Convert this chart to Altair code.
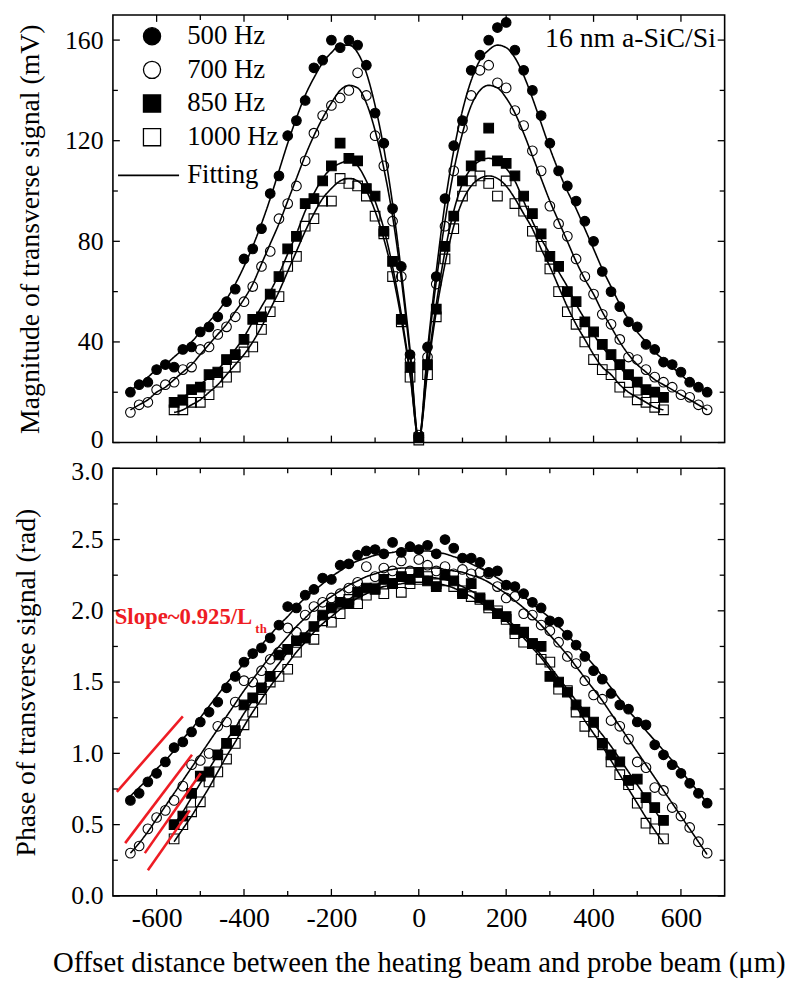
import altair as alt
import pandas as pd

FONT = "Liberation Serif"
RED = "#ee1c24"
SERIES = ["500 Hz", "700 Hz", "850 Hz", "1000 Hz"]
SHAPES = ["circle", "circle", "square", "square"]
FILLS = ["black", "transparent", "black", "transparent"]
STROKES = ["black", "black", "black", "black"]

# offset positions (um)
X_WIDE = list(range(-660, 661, 20))     # 500 Hz, 700 Hz
X_NARROW = list(range(-560, 561, 20))   # 850 Hz, 1000 Hz

# ---------------- magnitude (mV) ----------------
MAG_500 = [20,23,24,29,31,30,37,38,44,46, 50,56,61,73,77,85,99,106,122,128,
           136,149,152,160,157,160,158,150,131,119, 93,70,35, 2,
           38,66,97,118,128,148,154,160,165,167, 156,148,140,130,119,108,102,96,88,80,
           68,60,54,48,46,39,37,32,31,28, 24,22,20]
MAG_FIT_500 = [21,23,26,29,31,34,37,40,44,48, 52,57,63,70,78,87,97,108,119,129,
               138,145,151,155,158,158,155,147,134,117, 95,68,37, 1,
               37,68,95,116,132,144,152,156,158,157, 153,146,137,127,117,108,100,93,85,77,
               69,62,55,49,44,40,36,33,30,27, 24,22,20]
MAG_700 = [12,15,16,21,23,24,29,30,37,38, 43,46,50,56,62,70,76,89,95,102,
           112,123,130,134,137,140,147,138,122,110, 88,66,33, 3,
           34,63,86,108,125,138,148,150,143,141, 132,126,116,108,94,87,82,73,66,59,
           51,47,41,34,33,29,26,24,22,19, 18,15,13]
MAG_FIT_700 = [13,15,17,20,22,25,28,31,35,39, 43,47,52,57,63,71,79,87,96,105,
               114,122,129,135,140,142,141,135,124,109, 90,65,35, 1,
               35,64,88,108,123,134,140,142,141,137, 131,123,114,105,96,88,80,72,65,59,
               52,46,40,35,31,28,25,23,21,19, 17,15,13]
MAG_850 = [16,17,21,22,27,28,33,35,41,49, 50,59,66,77,82,95,97,104,110,119,
           113,112,101,98,84,72,49,30, 2,
           31,53,78,90,104,110,114,125,112,111, 106,98,91,83,74,70,60,56,48,44,
           39,35,31,27,24,21,20,18]
MAG_FIT_850 = [15,18,20,23,26,29,33,37,42,48, 54,60,67,75,83,92,99,105,109,111,
               112,110,104,96,85,70,51,28, 1,
               30,55,76,92,103,109,112,113,112,109, 104,96,88,81,75,68,62,55,49,43,
               38,34,30,26,23,21,19,17]
MAG_1000 = [13,13,16,16,19,24,26,30,36,38, 45,52,58,70,74,86,89,96,96,105,
            103,102,98,90,83,66,48,26, 1,
            27,50,73,85,98,104,106,103,98,104, 95,92,84,78,69,60,52,47,40,33,
            29,27,22,20,17,16,14,13]
MAG_FIT_1000 = [12,13,15,17,20,23,27,31,35,40, 46,53,60,68,76,84,91,97,101,104,
                105,104,100,92,81,67,49,27, 1,
                28,52,71,86,96,102,105,106,105,102, 97,91,85,77,70,62,54,47,41,35,
                30,27,23,20,18,16,14,13]

# ---------------- phase (rad) ----------------
PH_500 = [0.67,0.72,0.80,0.86,0.94,1.04,1.08,1.15,1.22,1.29, 1.36,1.46,1.54,1.64,1.70,1.74,1.81,1.90,2.03,2.02,
          2.11,2.15,2.23,2.22,2.32,2.33,2.39,2.42,2.43,2.40, 2.48,2.41,2.45, 2.43,
          2.46,2.40,2.50,2.44,2.37,2.37,2.34,2.27,2.28,2.18, 2.17,2.12,2.06,2.02,1.93,1.92,1.83,1.76,1.68,1.58,
          1.52,1.42,1.34,1.31,1.22,1.20,1.06,0.99,0.92,0.86, 0.79,0.72,0.65]
PH_FIT_500 = [0.70,0.76,0.82,0.89,0.95,1.02,1.10,1.17,1.25,1.33, 1.41,1.49,1.56,1.63,1.69,1.76,1.83,1.90,1.96,2.03,
              2.09,2.14,2.19,2.24,2.28,2.32,2.35,2.37,2.39,2.40, 2.41,2.42,2.42, 2.42,
              2.42,2.41,2.40,2.38,2.36,2.33,2.30,2.27,2.23,2.19, 2.15,2.10,2.05,2.00,1.95,1.89,1.83,1.76,1.69,1.62,
              1.54,1.46,1.38,1.30,1.23,1.16,1.09,1.02,0.95,0.88, 0.80,0.73,0.65]
PH_700 = [0.30,0.35,0.47,0.55,0.60,0.67,0.77,0.92,0.95,1.00, 1.19,1.22,1.36,1.51,1.50,1.58,1.66,1.71,1.88,1.85,
          1.97,2.03,2.06,2.09,2.12,2.16,2.20,2.31,2.24,2.30, 2.28,2.35,2.28, 2.36,
          2.32,2.28,2.31,2.26,2.29,2.26,2.27,2.26,2.17,2.09, 2.10,1.98,1.97,1.90,1.86,1.78,1.68,1.63,1.51,1.41,
          1.38,1.23,1.19,1.10,0.94,0.90,0.76,0.74,0.62,0.56, 0.48,0.38,0.30]
PH_FIT_700 = [0.30,0.37,0.45,0.54,0.63,0.72,0.81,0.90,0.99,1.08, 1.17,1.26,1.35,1.44,1.52,1.60,1.68,1.75,1.82,1.89,
              1.95,2.01,2.06,2.10,2.14,2.18,2.21,2.24,2.26,2.28, 2.29,2.30,2.30, 2.30,
              2.30,2.30,2.29,2.28,2.27,2.25,2.23,2.20,2.16,2.12, 2.07,2.02,1.96,1.90,1.83,1.76,1.69,1.61,1.53,1.45,
              1.37,1.28,1.19,1.10,1.01,0.92,0.83,0.74,0.65,0.56, 0.47,0.38,0.29]
PH_850 = [0.50,0.56,0.72,0.84,0.87,0.99,1.07,1.16,1.34,1.39, 1.46,1.54,1.69,1.73,1.79,1.81,1.89,1.97,2.02,2.06,
          2.05,2.13,2.16,2.15,2.22,2.19,2.24,2.22, 2.27,
          2.21,2.17,2.25,2.21,2.12,2.19,2.09,2.04,1.98,1.96, 1.87,1.85,1.77,1.75,1.54,1.50,1.43,1.34,1.29,1.22,
          1.07,0.99,0.94,0.81,0.82,0.69,0.62,0.53]
PH_FIT_850 = [0.50,0.59,0.69,0.79,0.89,0.99,1.09,1.18,1.28,1.37, 1.46,1.55,1.63,1.71,1.78,1.84,1.90,1.95,2.00,2.04,
              2.08,2.12,2.15,2.18,2.20,2.22,2.23,2.24, 2.24,
              2.24,2.23,2.22,2.20,2.17,2.14,2.10,2.05,2.00,1.95, 1.89,1.83,1.76,1.69,1.61,1.53,1.45,1.37,1.29,1.21,
              1.13,1.05,0.96,0.87,0.78,0.69,0.60,0.51]
PH_1000 = [0.40,0.50,0.59,0.66,0.80,0.87,0.96,1.07,1.20,1.29, 1.38,1.50,1.54,1.59,1.71,1.81,1.80,1.93,1.92,1.98,
           2.08,2.05,2.11,2.16,2.12,2.19,2.13,2.19, 2.22,
           2.24,2.19,2.21,2.17,2.14,2.10,2.08,2.02,2.00,1.94, 1.84,1.78,1.77,1.66,1.64,1.45,1.44,1.29,1.19,1.15,
           1.06,0.94,0.85,0.78,0.65,0.51,0.47,0.40]
PH_FIT_1000 = [0.38,0.47,0.56,0.66,0.76,0.87,0.98,1.08,1.19,1.29, 1.38,1.47,1.55,1.63,1.71,1.78,1.85,1.91,1.96,2.01,
               2.05,2.09,2.12,2.15,2.17,2.18,2.19,2.20, 2.20,
               2.20,2.19,2.18,2.16,2.13,2.10,2.06,2.02,1.98,1.93, 1.87,1.81,1.74,1.67,1.59,1.51,1.42,1.33,1.23,1.14,
               1.05,0.95,0.85,0.75,0.65,0.55,0.46,0.37]

# slope guide lines (um, rad)
SLOPE_X1 = [-691, -672, -627, -620]
SLOPE_V1 = [0.73, 0.37, 0.30, 0.18]
SLOPE_X2 = [-540, -519, -499, -524]
SLOPE_V2 = [1.26, 0.99, 0.86, 0.60]
SLOPE_TEXT = "Slope~0.925/L"
SLOPE_SUB = "th"
SLOPE_POS = [-696, 1.905]
SLOPE_SUB_POS = [-374, 1.845]

SAMPLE_TEXT = "16 nm a-SiC/Si"
SAMPLE_POS = [680, 160.4]

# axes
X_DOMAIN = [-700, 700]
MAG_DOMAIN = [0, 170]
PH_DOMAIN = [0, 3]
X_MAJOR = [-600, -400, -200, 0, 200, 400, 600]
X_MINOR = [-500, -300, -100, 100, 300, 500]
MAG_MAJOR = [0, 40, 80, 120, 160]
MAG_MINOR = [20, 60, 100, 140]
PH_MAJOR = [0, 0.5, 1.0, 1.5, 2.0, 2.5, 3.0]
PH_MINOR = [0.25, 0.75, 1.25, 1.75, 2.25, 2.75]

W, H = 618, 432


def long_df(xs_list, vals_list):
    rows = []
    for s, xs, vs in zip(SERIES, xs_list, vals_list):
        assert len(xs) == len(vs), (s, len(xs), len(vs))
        rows += [{"x": x, "v": v, "series": s} for x, v in zip(xs, vs)]
    return pd.DataFrame(rows)


GRIDS = [X_WIDE, X_WIDE, X_NARROW, X_NARROW]
mag_pts = long_df(GRIDS, [MAG_500, MAG_700, MAG_850, MAG_1000])
mag_fit = long_df(GRIDS, [MAG_FIT_500, MAG_FIT_700, MAG_FIT_850, MAG_FIT_1000])
mag_fit["kind"] = "Fitting"
ph_pts = long_df(GRIDS, [PH_500, PH_700, PH_850, PH_1000])
ph_fit = long_df(GRIDS, [PH_FIT_500, PH_FIT_700, PH_FIT_850, PH_FIT_1000])
ph_fit["kind"] = "Fitting"


def panel(pts, fit, ydomain, yaxis, xaxis, ymajor, yminor, legends, extras):
    xs = alt.Scale(domain=X_DOMAIN, nice=False, zero=False)
    ys = alt.Scale(domain=ydomain, nice=False, zero=False)

    def X(f):
        return alt.X(f, type="quantitative", scale=xs, axis=xaxis)

    def Y(f):
        return alt.Y(f, type="quantitative", scale=ys, axis=yaxis)

    if legends:
        pt_leg = alt.Legend(title=None, orient="none", legendX=26, legendY=8,
                            labelFont=FONT, labelFontSize=27, labelColor="black",
                            symbolSize=300, symbolStrokeColor="black", symbolStrokeWidth=1.3,
                            rowPadding=6, labelOffset=22, padding=0)
        fit_leg = alt.Legend(title=None, orient="none", legendX=4, legendY=130,
                             labelFont=FONT, labelFontSize=27, labelColor="black",
                             symbolType="stroke", symbolSize=3800, symbolStrokeColor="black",
                             symbolStrokeWidth=1.8, labelOffset=7, padding=0)
    else:
        pt_leg = None
        fit_leg = None

    lines = alt.Chart(fit).mark_line(color="black", strokeWidth=1.6, interpolate="monotone").encode(
        x=X("x"), y=Y("v"), detail="series:N",
        strokeDash=alt.StrokeDash("kind:N", scale=alt.Scale(domain=["Fitting"], range=[[1, 0]]),
                                  legend=fit_leg),
    )
    points = alt.Chart(pts).mark_point(filled=True, size=95, strokeWidth=1.1, opacity=1).encode(
        x=X("x"), y=Y("v"),
        shape=alt.Shape("series:N", scale=alt.Scale(domain=SERIES, range=SHAPES), legend=pt_leg),
        fill=alt.Fill("series:N", scale=alt.Scale(domain=SERIES, range=FILLS), legend=pt_leg),
        stroke=alt.Stroke("series:N", scale=alt.Scale(domain=SERIES, range=STROKES), legend=pt_leg),
    )

    tick_layers = []
    for vals, ln in ((X_MAJOR, 7), (X_MINOR, 5)):
        df = pd.DataFrame({"t": vals})
        tick_layers.append(alt.Chart(df).mark_rule(color="black", strokeWidth=1.3).encode(
            x=X("t"), y=alt.value(0), y2=alt.value(ln)))
        tick_layers.append(alt.Chart(df).mark_rule(color="black", strokeWidth=1.3).encode(
            x=X("t"), y=alt.value(H), y2=alt.value(H - ln)))
    for vals, ln in ((ymajor, 7), (yminor, 5)):
        df = pd.DataFrame({"t": vals})
        tick_layers.append(alt.Chart(df).mark_rule(color="black", strokeWidth=1.3).encode(
            y=Y("t"), x=alt.value(0), x2=alt.value(ln)))
        tick_layers.append(alt.Chart(df).mark_rule(color="black", strokeWidth=1.3).encode(
            y=Y("t"), x=alt.value(W), x2=alt.value(W - ln)))

    extra_layers = [e(X, Y) for e in extras]
    return alt.layer(lines, points, *extra_layers, *tick_layers).properties(width=W, height=H)


def sample_label(X, Y):
    df = pd.DataFrame({"x": [SAMPLE_POS[0]], "v": [SAMPLE_POS[1]], "t": [SAMPLE_TEXT]})
    return alt.Chart(df).mark_text(align="right", baseline="middle", font=FONT, fontSize=28,
                                   color="black").encode(x=X("x"), y=Y("v"), text="t:N")


def slope_lines(X, Y):
    df = pd.DataFrame({"x1": SLOPE_X1, "v1": SLOPE_V1, "x2": SLOPE_X2, "v2": SLOPE_V2})
    return alt.Chart(df).mark_rule(color=RED, strokeWidth=2.6).encode(
        x=X("x1"), y=Y("v1"), x2="x2:Q", y2="v2:Q")


def slope_text(X, Y):
    df = pd.DataFrame({"x": [SLOPE_POS[0]], "v": [SLOPE_POS[1]], "t": [SLOPE_TEXT]})
    return alt.Chart(df).mark_text(align="left", baseline="alphabetic", font=FONT, fontSize=23,
                                   fontWeight="bold", color=RED).encode(x=X("x"), y=Y("v"), text="t:N")


def slope_sub(X, Y):
    df = pd.DataFrame({"x": [SLOPE_SUB_POS[0]], "v": [SLOPE_SUB_POS[1]], "t": [SLOPE_SUB]})
    return alt.Chart(df).mark_text(align="left", baseline="alphabetic", font=FONT, fontSize=13,
                                   fontWeight="bold", color=RED).encode(x=X("x"), y=Y("v"), text="t:N")


common_axis = dict(ticks=False, domain=False, grid=False, labelFont=FONT,
                   labelColor="black", titleFont=FONT, titleFontWeight="normal", titleColor="black")

mag_yaxis = alt.Axis(values=MAG_MAJOR, format="d", title="Magnitude of transverse signal (mV)",
                     labelFontSize=26, titleFontSize=28, labelPadding=10, titleX=-75,
                     titleBaseline="alphabetic",
                     labelOffset={"condition": {"test": "datum.value == 0", "value": -3}, "value": 0},
                     **common_axis)
ph_yaxis = alt.Axis(values=PH_MAJOR, format=".1f", title="Phase of transverse signal (rad)",
                    labelFontSize=26, titleFontSize=28, labelPadding=10, titleX=-79,
                    titleBaseline="alphabetic",
                    labelOffset={"condition": {"test": "datum.value == 3", "value": 3}, "value": 0},
                    **common_axis)
ph_xaxis = alt.Axis(values=X_MAJOR, labelExpr="'' + datum.value",
                    title="Offset distance between the heating beam and probe beam (\u03bcm)",
                    labelFontSize=28, titleFontSize=29, labelPadding=9, titlePadding=16,
                    **common_axis)

top = panel(mag_pts, mag_fit, MAG_DOMAIN, mag_yaxis, None, MAG_MAJOR, MAG_MINOR, True,
            [sample_label])
bottom = panel(ph_pts, ph_fit, PH_DOMAIN, ph_yaxis, ph_xaxis, PH_MAJOR, PH_MINOR, False,
               [slope_lines, slope_text, slope_sub])

chart = alt.vconcat(top, bottom, spacing=26, bounds="flush").resolve_scale(
    shape="independent", fill="independent", stroke="independent", strokeDash="independent"
).properties(
    padding={"left": 4, "top": 0, "right": 0, "bottom": 0}
).configure_view(stroke="black", strokeWidth=1.6)

chart.save("out.html", embed_options={"renderer": "svg", "actions": False})
